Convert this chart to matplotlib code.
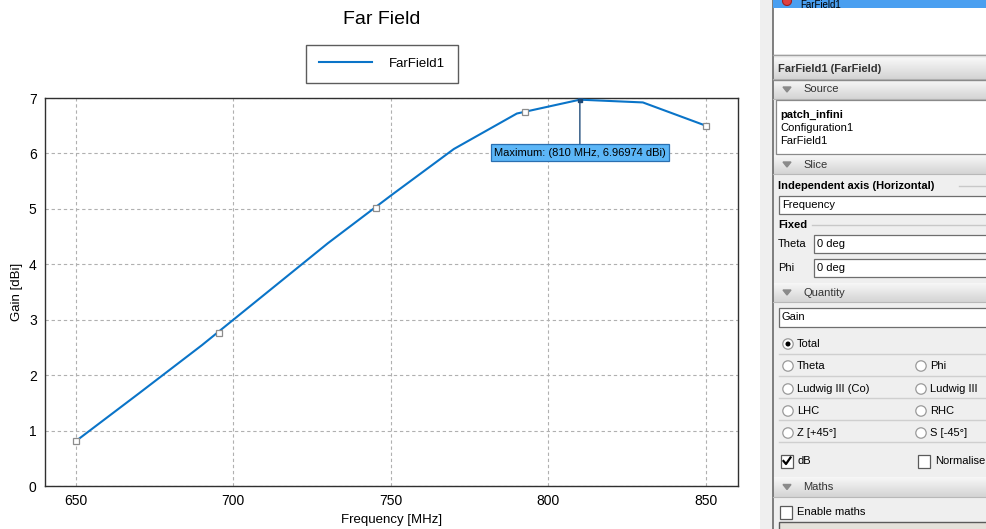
import numpy as np
import matplotlib.pyplot as plt
from matplotlib.patches import Rectangle, Circle, Polygon
from matplotlib.colors import LinearSegmentedColormap

W, H = 986, 529

# gain curve (20 MHz steps)
freq = [650, 670, 690, 710, 730, 750, 770, 790, 810, 830, 850]
gain = [0.81, 1.67, 2.54, 3.46, 4.38, 5.24, 6.08, 6.72, 6.96974, 6.92, 6.50]
# square markers drawn along the curve
marker_freq = [650, 695.4, 745.2, 792.7, 850]
marker_gain = [0.81, 2.76, 5.02, 6.74, 6.50]
xticks = [650, 700, 750, 800, 850]
yticks = [0, 1, 2, 3, 4, 5, 6, 7]

plt.rcParams['font.family'] = ['Liberation Sans', 'DejaVu Sans']

fig = plt.figure(figsize=(W / 100, H / 100), dpi=100)
fig.patch.set_facecolor('white')

# ---- overlay in pixel coords for the side panel ----
ui = fig.add_axes([0, 0, 1, 1], zorder=0)
ui.set_facecolor('none')

PX0 = 773  # panel inner left
grad_cmap = LinearSegmentedColormap.from_list('hdr', ['#f7f7f7', '#d4d4d4'])
grad = np.linspace(0, 1, 32).reshape(-1, 1)


def header(y0, y1, label, bold=False, tri=True):
    ui.imshow(grad, cmap=grad_cmap, extent=(PX0, W, y1, y0), origin='upper',
              aspect='auto', zorder=1)
    ui.plot([PX0, W], [y1, y1], color='#b8b8b8', lw=0.8, zorder=2)
    yc = (y0 + y1) / 2
    if tri:
        ui.add_patch(Polygon([(783, yc - 2.5), (791, yc - 2.5), (787, yc + 2.5)],
                             closed=True, color='#8a8a8a', zorder=3))
        ui.text(803, yc, label, fontsize=8, va='center', color='#333333', zorder=3)
    else:
        ui.text(778, yc, label, fontsize=8, va='center', color='#333333',
                fontweight='bold', zorder=3)


def textbox(x0, y0, y1, label):
    ui.add_patch(Rectangle((x0, y0), W - x0 + 5, y1 - y0, facecolor='white',
                           edgecolor='#6e6e6e', lw=0.9, zorder=2))
    ui.text(x0 + 3, (y0 + y1) / 2, label, fontsize=8, va='center', zorder=3)


def radio(x, y, label, on=False):
    ui.add_patch(Circle((x, y), 5.2, facecolor='white', edgecolor='#9a9a9a',
                        lw=0.9, zorder=3))
    if on:
        ui.add_patch(Circle((x, y), 1.8, color='black', zorder=4))
    ui.text(x + 9, y, label, fontsize=8, va='center', zorder=3)


def checkbox(x, y, label, on=False):
    ui.add_patch(Rectangle((x, y - 6.5), 12, 13, facecolor='white',
                           edgecolor='#5a5a5a', lw=0.9, zorder=3))
    if on:
        ui.plot([x + 2.5, x + 5, x + 9.5], [y, y + 3, y - 3.5], color='black',
                lw=1.6, zorder=4)
    ui.text(x + 17, y, label, fontsize=8, va='center', zorder=3)


# panel background + splitter
ui.add_patch(Rectangle((760, 0), W - 760, H, facecolor='#efefef', edgecolor='none', zorder=0))
ui.plot([772.5, 772.5], [0, H], color='#6a6a6a', lw=1.2, zorder=2)

# top list
ui.add_patch(Rectangle((PX0, 0), W - PX0, 54, facecolor='white', edgecolor='none', zorder=1))
ui.add_patch(Rectangle((PX0, 0), W - PX0, 8, facecolor='#4a9ff0', edgecolor='none', zorder=2))
ui.add_patch(Circle((787, 1), 4.5, facecolor='#e04040', edgecolor='#a02020', lw=0.8, zorder=3))
ui.text(800, 0.5, 'FarField1', fontsize=7, va='top', zorder=3)
ui.plot([PX0, W], [54.5, 54.5], color='#a0a0a0', lw=1, zorder=2)

header(58, 79, 'FarField1 (FarField)', tri=False)
ui.plot([PX0, W], [79.5, 79.5], color='#8a8a8a', lw=1, zorder=3)
header(80, 99, 'Source')

# source box
ui.add_patch(Rectangle((776, 100), W - 776 + 5, 54, facecolor='white',
                       edgecolor='#8a8a8a', lw=0.9, zorder=2))
ui.text(780, 115, 'patch_infini', fontsize=8, fontweight='bold', va='center', zorder=3)
ui.text(780, 128, 'Configuration1', fontsize=8, va='center', zorder=3)
ui.text(780, 141, 'FarField1', fontsize=8, va='center', zorder=3)

header(155, 174, 'Slice')
ui.text(778, 186, 'Independent axis (Horizontal)', fontsize=8, fontweight='bold',
        va='center', zorder=3)
ui.plot([959, W], [186, 186], color='#c8c8c8', lw=1, zorder=2)
textbox(779, 196, 214, 'Frequency')
ui.text(778, 225, 'Fixed', fontsize=8, fontweight='bold', va='center', zorder=3)
ui.plot([812, W], [225, 225], color='#c8c8c8', lw=1, zorder=2)
ui.text(778, 244, 'Theta', fontsize=8, va='center', zorder=3)
textbox(814, 235, 253, '0 deg')
ui.text(778, 268, 'Phi', fontsize=8, va='center', zorder=3)
textbox(814, 259, 277, '0 deg')

header(283, 302, 'Quantity')
textbox(779, 308, 327, 'Gain')

radio(788, 344, 'Total', on=True)
rows = [(366, 'Theta', 'Phi'), (389, 'Ludwig III (Co)', 'Ludwig III'),
        (411, 'LHC', 'RHC'), (433, 'Z [+45°]', 'S [-45°]')]
for yy, a, b in rows:
    radio(788, yy, a)
    radio(921, yy, b)
for yy in [354, 376, 398, 420, 442]:
    ui.plot([779, W], [yy, yy], color='#cfcfcf', lw=1, zorder=2)

checkbox(781, 461, 'dB', on=True)
checkbox(918, 461, 'Normalise')

header(477, 497, 'Maths')
checkbox(780, 512, 'Enable maths')
ui.add_patch(Rectangle((779, 522), W - 779 + 5, 20, facecolor='#e4e1da',
                       edgecolor='#5a5a5a', lw=1, zorder=2))

ui.set_xlim(0, W)
ui.set_ylim(H, 0)
ui.axis('off')

# ---- chart ----
L, R, T, B = 45, 738, 98, 486
ax = fig.add_axes([L / W, 1 - B / H, (R - L) / W, (B - T) / H], zorder=1)
ax.set_facecolor('white')

ax.plot(freq, gain, color='#0a74c8', lw=1.5, label='FarField1', zorder=3)
ax.plot(marker_freq, marker_gain, ls='none', marker='s', ms=4.5,
        mfc='white', mec='#8c8c8c', mew=0.9, zorder=4)

imax = int(np.argmax(gain))
fmax, gmax = freq[imax], gain[imax]
ax.plot([fmax], [gmax], marker='s', ms=3.5, color='#1b4877', ls='none', zorder=5)
ax.annotate(f'Maximum: ({fmax} MHz, {gmax:g} dBi)', xy=(fmax, gmax),
            xytext=(0, -53), textcoords='offset pixels', ha='center', va='center',
            fontsize=8, color='black', zorder=6,
            bbox=dict(boxstyle='square,pad=0.3', fc='#5cb6f7', ec='#2a6fb0', lw=0.9),
            arrowprops=dict(arrowstyle='-', color='#234f7c', lw=1,
                            shrinkA=0, shrinkB=0))

ax.set_xlim(640.2, 860.2)
ax.set_ylim(0, 7)
ax.set_xticks(xticks)
ax.set_yticks(yticks)
ax.tick_params(length=0, labelsize=10, pad=6)
ax.grid(True, color='#b0b0b0', ls=(0, (3, 2.5)), lw=0.8)
for s in ax.spines.values():
    s.set_color('#303030')
    s.set_linewidth(1)

ax.set_xlabel('Frequency [MHz]', fontsize=9.5)
ax.xaxis.set_label_coords(0.5, (B - 514) / (B - T))
ax.set_ylabel('Gain [dBi]', fontsize=9.5)
ax.yaxis.set_label_coords((23 - L) / (R - L), 0.5)

fig.text(382 / W, 1 - 19 / H, 'Far Field', ha='center', va='center', fontsize=14)

leg = ax.legend(loc='center', bbox_to_anchor=(382 / W, 1 - 64 / H),
                bbox_transform=fig.transFigure, fontsize=9.5, frameon=True,
                fancybox=False, shadow=False, borderpad=0.95, handlelength=4.0,
                handletextpad=1.3)
leg.get_frame().set_edgecolor('#333333')
leg.get_frame().set_linewidth(1)

fig.savefig('out.png', dpi=100, facecolor='white')
